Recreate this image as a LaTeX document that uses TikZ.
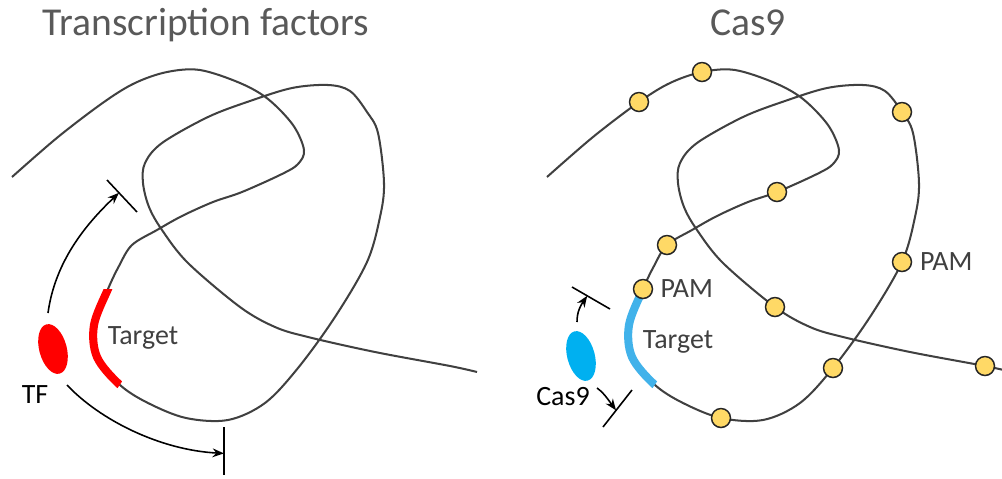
\documentclass[tikz,border=0pt]{standalone}
\usepackage{fontspec}
\setmainfont{Carlito}
\usepackage{tikz}
\usetikzlibrary{positioning}
\usetikzlibrary{arrows.meta}
\usetikzlibrary{shapes.geometric}
\usetikzlibrary{calc}

\definecolor{strandgray}{HTML}{404040}
\definecolor{titlegray}{HTML}{595959}
\definecolor{tfred}{HTML}{FF0000}
\definecolor{casblue}{HTML}{00B0F0}
\definecolor{targetblue}{HTML}{41B2EA}
\definecolor{pamyellow}{HTML}{FFD966}

\begin{document}
\begin{tikzpicture}[x=0.02cm, y=-0.02cm]
    \tikzstyle{strand}=[draw=strandgray, line width=1.15pt]
    \tikzstyle{target}=[line width=4.6pt]
    \tikzstyle{pam}=[circle, fill=pamyellow, draw=black!85, line width=0.85pt,
            minimum size=10.8pt, inner sep=0pt]
    \tikzstyle{heading}=[text=titlegray, inner sep=0pt,
            font=\fontsize{22.5}{26}\selectfont]
    \tikzstyle{txt}=[text=strandgray, inner sep=0pt,
            font=\fontsize{15.9}{19}\selectfont]
    \tikzstyle{binder}=[ellipse, inner sep=0pt, minimum width=0.55cm,
            minimum height=1.02cm, rotate=15]
    \tikzstyle{bar}=[black, line width=0.9pt]
    \tikzstyle{move}=[black, line width=0.9pt,
            -{Stealth[length=6.5pt, width=5pt]}]

    \useasboundingbox (0,0) rectangle (1002,478);

        % the same folded strand in both panels
        \foreach \sx/\col in {0/tfred, 535/targetblue}
        {
            \begin{scope}[shift={(\sx,0)}]
                \draw[strand] plot[smooth, tension=0.55] coordinates {
                    (12,177) (58,137) (104,102) (135,83) (167,72) (200,70)
                    (240,83) (268,99) (293,125) (304,150) (298,164) (282,174)
                    (242,192) (213,202) (182,216) (157,230) (132,245) (119,266)
                    (108,289) (94,325)
                    (97,357) (120,385) (148,403) (186,418) (228,420) (265,403)
                    (298,368) (335,317) (367,262) (380,217) (384,183) (378,133)
                    (367,112) (350,91) (328,85) (292,88) (250,101) (208,117)
                    (162,143) (145,163) (143,183) (149,207) (162,230) (188,263)
                    (240,307) (275,327) (308,337) (375,352) (450,366) (477,372)};
                \begin{scope}
                    \clip (60,289) -- (145,289) -- (145,348) -- (106,405)
                        -- (60,405) -- cycle;
                    \draw[target, draw=\col] plot[smooth, tension=0.55]
                        coordinates {(119,266) (108,289) (94,325) (97,357)
                        (120,385) (148,403)};
                \end{scope}
            \end{scope}
        }

        \begin{scope}[shift={(535,0)}]
            \foreach \n/\x/\y in {1/104/102, 2/167/72, 3/367/112, 4/242/192,
                5/132/245, 6/108/289, 7/367/262, 8/240/307, 9/298/368,
                10/186/418, 11/450/366}
            {
                \node[pam] (pam\n) at (\x,\y) {};
            }
        \end{scope}

        \node[heading, anchor=base] (ttlL) at (206,35) {Transcription factors};
        \node[heading, anchor=base] (ttlR) at (748,35) {Cas9};

        \node[txt] (tgtL) at (143,338) {Target};
        \node[txt] (tgtR) at (678,342) {Target};
        \node[txt, right=0.14cm of pam6] (pamL) {PAM};
        \node[txt, right=0.15cm of pam7] (pamR) {PAM};

        \node[binder, fill=tfred] (tf) at (53,349) {};
        \node[binder, fill=casblue] (cas) at (581,356) {};
        \node[txt, text=black] (tflbl) at (35,395) {TF};
        \node[txt, text=black] (caslbl) at (563,397) {Cas9};

        % range of the search, left
        \coordinate (upA) at (107,180);
        \coordinate (upB) at (137,212);
        \coordinate (dnA) at (224,427);
        \coordinate (dnB) at (224,475);
        \coordinate (tfUp) at (48,313);
        \coordinate (tfDn) at (67,385);
        \draw[bar] (upA) -- (upB);
        \draw[bar] (dnA) -- (dnB);
        \draw[move] (tfUp) .. controls (55,262) and (85,225) .. ($(upA)!0.4!(upB)$);
        \draw[move] (tfDn) .. controls (100,420) and (160,450) .. ($(dnA)!0.55!(dnB)$);

        % range of the search, right
        \coordinate (cupA) at (572,287);
        \coordinate (cupB) at (610,309);
        \coordinate (cdnA) at (632,390);
        \coordinate (cdnB) at (603,427);
        \coordinate (casUp) at (577,322);
        \coordinate (casDn) at (597,388);
        \draw[bar] (cupA) -- (cupB);
        \draw[bar] (cdnA) -- (cdnB);
        \draw[move] (casUp) .. controls (577,311) and (581,305) .. ($(cupA)!0.4!(cupB)$);
        \draw[move] (casDn) .. controls (603,392) and (607,398) .. ($(cdnA)!0.55!(cdnB)$);

    \end{tikzpicture}
\end{document}
